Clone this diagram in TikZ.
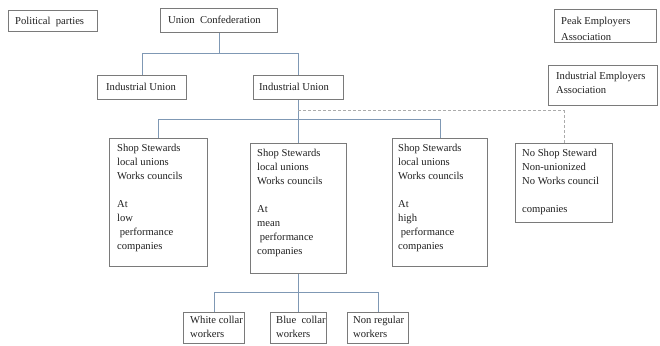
\documentclass[tikz,border=0pt]{standalone}
\usepackage{fontspec}
\setmainfont{Liberation Serif}
\usetikzlibrary{calc}
\definecolor{boxgray}{HTML}{7A7A7A}
\definecolor{linkblue}{HTML}{7F98B4}
\definecolor{dashgray}{HTML}{ABABAB}
\tikzset{
  box/.style={draw=boxgray, line width=0.8pt, anchor=north west, inner sep=0pt},
  txt/.style={anchor=north west, inner sep=0pt, align=left, text=black!88,
              font=\fontsize{10.6}{14}\selectfont},
  conn/.style={draw=linkblue, line width=0.8pt},
  dconn/.style={draw=dashgray, line width=0.8pt, dash pattern=on 3pt off 2pt},
}

\begin{document}
\begin{tikzpicture}[x=1pt, y=-1pt]
  \useasboundingbox (0,0) rectangle (660,345);
  % top row
  \node[box, minimum width=89, minimum height=21] (pp) at (8,10) {};
  \node[box, minimum width=117, minimum height=24] (uc) at (160,8) {};
  \node[box, minimum width=102, minimum height=33] (pea) at (554,9) {};
  \node[box, minimum width=109, minimum height=40] (iea) at (548,65) {};
  \node[txt] (pp-t) at ([shift={(7,7)}]pp.north west) {Political\ \ parties};
  \node[txt] (uc-t) at ([shift={(8,8)}]uc.north west) {Union\ \ Confederation};
  \node[txt, font=\fontsize{10.6}{16}\selectfont] (pea-t) at ([shift={(7,8)}]pea.north west)
    {Peak Employers\\Association};
  \node[txt] (iea-t) at ([shift={(8,7)}]iea.north west) {Industrial Employers\\Association};
  % industrial unions
  \node[box, minimum width=89, minimum height=24] (iul) at (97,75) {};
  \node[box, minimum width=90, minimum height=24] (iur) at (253,75) {};
  \node[txt] (iul-t) at ([shift={(9,8)}]iul.north west) {Industrial Union};
  \node[txt] (iur-t) at ([shift={(6,8)}]iur.north west) {Industrial Union};
  \coordinate (bus1) at (0,53);
  \draw[conn] (uc.south) -- (uc.south |- bus1);
  \draw[conn] (iul.north) |- (iur.north |- bus1) -- (iur.north);
  % company level
  \node[box, minimum width=98, minimum height=128] (ssl) at (109,138) {};
  \node[box, minimum width=96, minimum height=130] (ssm) at (250,143) {};
  \node[box, minimum width=95, minimum height=128] (ssh) at (392,138) {};
  \node[box, minimum width=97, minimum height=79] (nss) at (515,143) {};
  \node[txt] (ssl-t) at ([shift={(8,6)}]ssl.north west)
    {Shop Stewards\\local unions\\Works councils\\[14pt]At\\low\\\ performance\\companies};
  \node[txt] (ssm-t) at ([shift={(7,6)}]ssm.north west)
    {Shop Stewards\\local unions\\Works councils\\[14pt]At\\mean\\\ performance\\companies};
  \node[txt] (ssh-t) at ([shift={(6,6)}]ssh.north west)
    {Shop Stewards\\local unions\\Works councils\\[14pt]At\\high\\\ performance\\companies};
  \node[txt] (nss-t) at ([shift={(7,6)}]nss.north west)
    {No Shop Steward\\Non-unionized\\No Works council\\[14pt]companies};
  \coordinate (bus2) at (0,119);
  \draw[conn] (iur.south) -- (ssm.north);
  \draw[conn] (ssl.north) |- (ssh.north |- bus2) -- (ssh.north);
  \draw[dconn] (nss.north) |- ([yshift=-11pt]iur.south);
  % worker groups
  \node[box, minimum width=61, minimum height=31] (wc) at (183,312) {};
  \node[box, minimum width=56, minimum height=31] (bc) at (270,312) {};
  \node[box, minimum width=61, minimum height=31] (nr) at (347,312) {};
  \node[txt] (wc-t) at ([shift={(7,4)}]wc.north west) {White collar\\workers};
  \node[txt] (bc-t) at ([shift={(6,4)}]bc.north west) {Blue\ \ collar\\workers};
  \node[txt] (nr-t) at ([shift={(6,4)}]nr.north west) {Non regular\\workers};
  \coordinate (bus3) at (0,292);
  \draw[conn] (ssm.south) -- (bc.north);
  \draw[conn] (wc.north) |- (nr.north |- bus3) -- (nr.north);
\end{tikzpicture}
\end{document}
